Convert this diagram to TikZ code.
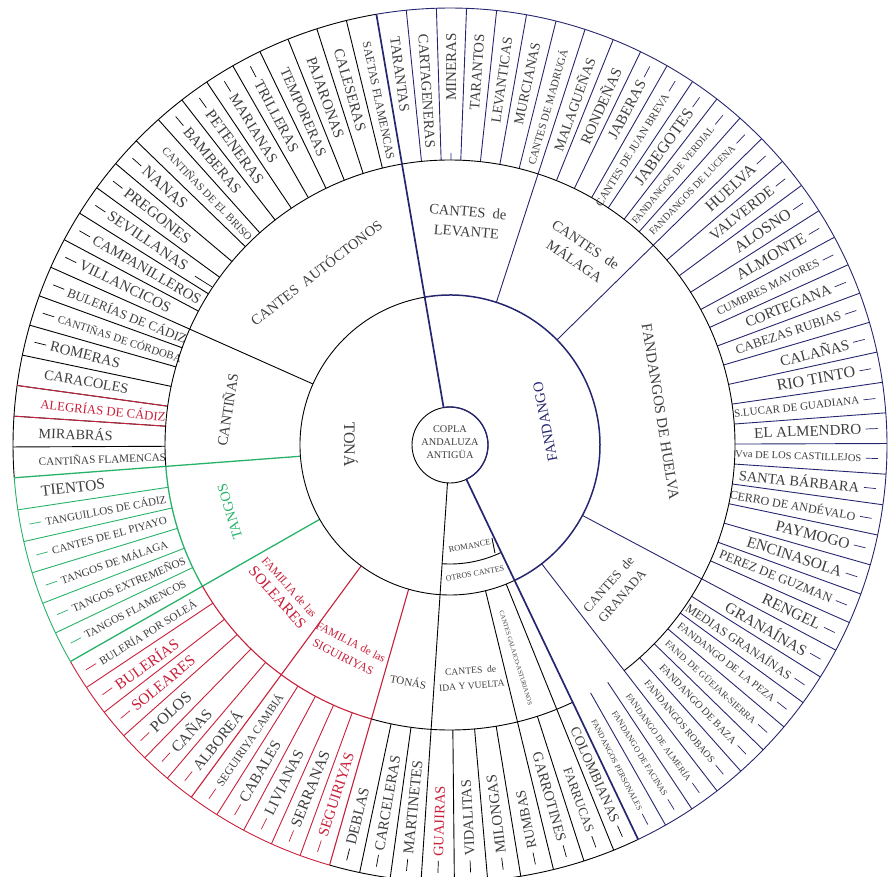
\documentclass[tikz,border=0pt]{standalone}
\usepackage{fontspec}
\setmainfont{Liberation Serif}
\usepackage{tikz}

\definecolor{navyc}{RGB}{38,38,112}
\definecolor{redc}{RGB}{200,32,58}
\definecolor{greenc}{RGB}{40,178,105}
\definecolor{txtc}{RGB}{62,62,62}

% one group of the outer ring: name, start angle, end angle, number of cantes, line colour, cantes
\newcommand{\cantegroup}[6]{%
  \pgfmathsetmacro\stp{(#2-(#3))/#4}
  \foreach \txt/\fs/\tk/\tc [count=\i] in {#6} {
    \pgfmathsetmacro\a{#2-(\i-0.5)*\stp}
    \pgfmathtruncatemacro\flip{and(\a>91.5,\a<283)}
    \ifnum\flip=1 \def\anc{west}\pgfmathsetmacro\rot{\a+180}\else\def\anc{east}\pgfmathsetmacro\rot{\a}\fi
    \node[outer label, text=\tc, font=\fontsize{\fs}{\fs}\selectfont, rotate=\rot, anchor=\anc] (#1-\i) at (\a:412) {\txt};
    \ifnum\tk=1 \draw[#5, lbl tick] (\a:416) -- (\a:428); \fi
    \ifnum\i<#4 \pgfmathsetmacro\b{#2-\i*\stp}\draw[#5] (\b:285) -- (\b:437); \fi
  }
  \draw[#5] (#2:437) arc[start angle=#2, end angle=#3, radius=437];
}

\begin{document}
\begin{tikzpicture}[x=1pt,y=1pt,line width=0.9pt,
    outer label/.style={inner sep=0pt},
    mid label/.style={inner sep=0pt, align=center, text=txtc},
    lbl tick/.style={line width=0.7pt}]
  \useasboundingbox (-450,-431) rectangle (440,445);
  \clip (-450,-431) rectangle (440,445);

  % outer ring, clockwise from the top
  \cantegroup{lev}{99.7}{72}{7}{navyc}{TARANTAS/14.5/0/txtc, CARTAGENERAS/14.5/0/txtc, MINERAS/15/0/txtc, TARANTOS/14.5/0/txtc, LEVANTICAS/14/0/txtc, MURCIANAS/14/0/txtc, CANTES DE MADRUGÁ/11/0/txtc}
  \cantegroup{mal}{72}{44.5}{7}{navyc}{MALAGUEÑAS/14/0/txtc, RONDEÑAS/15/0/txtc, JABERAS/15/1/txtc, CANTES DE JUAN BREVA/11/1/txtc, JABEGOTES/16/1/txtc, FANDANGOS DE VERDIAL/10/1/txtc, FANDANGOS DE LUCENA/10/1/txtc}
  \cantegroup{hue}{44.5}{-28}{18}{navyc}{HUELVA/16/1/txtc, VALVERDE/15/1/txtc, ALOSNO/16/1/txtc, ALMONTE/16/1/txtc, CUMBRES MAYORES/11.5/1/txtc, CORTEGANA/15/1/txtc, CABEZAS RUBIAS/13/1/txtc, CALAÑAS/15/1/txtc, RIO TINTO/16/1/txtc, S.LUCAR DE GUADIANA/11/1/txtc, EL ALMENDRO/15/1/txtc, Vva DE LOS CASTILLEJOS/10.5/1/txtc, SANTA BÁRBARA/14.5/1/txtc, CERRO DE ANDÉVALO/12/1/txtc, PAYMOGO/15.5/1/txtc, ENCINASOLA/15.5/1/txtc, PEREZ DE GUZMAN/13/1/txtc, RENGEL/16/1/txtc}
  \cantegroup{gra}{-28}{-64.5}{9}{navyc}{GRANAÍNAS/15.5/1/txtc, MEDIAS GRANAÍNAS/12.5/1/txtc, FANDANGO DE LA PEZA/10.5/1/txtc, FAND. DE GÜEJAR-SIERRA/9.5/1/txtc, FANDANGO DE BAZA/10.5/1/txtc, FANDANGOS ROBAOS/10/1/txtc, FANDANGO DE ALMERÍA/8.8/1/txtc, FANDANGO DE FACINAS/8.5/1/txtc, FANDANGOS PERSONALES/8/1/txtc}
  \cantegroup{col}{295.5}{292}{1}{black}{COLOMBIANAS/14/1/txtc}
  \cantegroup{gal}{292}{283.7}{2}{black}{FARRUCAS/13/1/txtc, GARROTINES/14.5/1/txtc}
  \cantegroup{ida}{283.7}{266.2}{4}{black}{RUMBAS/14/1/txtc, MILONGAS/15/1/txtc, VIDALITAS/14.5/1/txtc, GUAJIRAS/14.5/1/redc}
  \cantegroup{ton}{266.2}{254}{3}{black}{MARTINETES/15/1/txtc, CARCELERAS/14.8/1/txtc, DEBLAS/15/1/txtc}
  \cantegroup{sig}{254}{233.7}{5}{redc}{SEGUIRIYAS/15/1/redc, SERRANAS/15.5/1/txtc, LIVIANAS/15/1/txtc, CABALES/15/1/txtc, SEGUIRIYA CAMBIÁ/11.5/1/txtc}
  \cantegroup{sol}{233.7}{209.7}{6}{redc}{ALBOREÁ/15/1/txtc, CAÑAS/15.5/1/txtc, POLOS/16/1/txtc, SOLEARES/15.4/1/redc, BULERÍAS/15.3/1/redc, BULERÍA POR SOLEÁ/11.2/1/txtc}
  \cantegroup{tan}{209.7}{184.3}{6}{greenc}{TANGOS FLAMENCOS/11/1/txtc, TANGOS EXTREMEÑOS/11.2/1/txtc, TANGOS DE MÁLAGA/11/1/txtc, CANTES DE EL PIYAYO/11/1/txtc, TANGUILLOS DE CÁDIZ/11/1/txtc, TIENTOS/15.5/0/txtc}
  \cantegroup{can}{184.3}{156}{7}{black}{CANTIÑAS FLAMENCAS/11.2/0/txtc, MIRABRÁS/14.2/0/txtc, ALEGRÍAS DE CÁDIZ/12.8/0/redc, CARACOLES/14.3/0/txtc, ROMERAS/14.8/1/txtc, CANTIÑAS DE CÓRDOBA/11/1/txtc, BULERÍAS DE CÁDIZ/13/1/txtc}
  \cantegroup{aut}{156}{99.7}{14}{black}{VILLANCICOS/15/1/txtc, CAMPANILLEROS/14.8/1/txtc, SEVILLANAS/15.2/1/txtc, PREGONES/15.5/1/txtc, NANAS/16/1/txtc, CANTIÑAS DE EL BRISO/11/0/txtc, BAMBERAS/14.8/1/txtc, PETENERAS/15.5/1/txtc, MARIANAS/14.6/1/txtc, TRILLERAS/14.7/1/txtc, TEMPORERAS/14.4/0/txtc, PAJARONAS/15/0/txtc, CALESERAS/14.9/0/txtc, SAETAS FLAMENCAS/12/0/txtc}
  % alegrias band
  \draw[redc] (176.21:285) -- (176.21:437);
  \draw[redc] (172.17:285) -- (172.17:437);
  % stray ticks at the inner end
  \draw[navyc, lbl tick] (89.8:285) -- (89.8:292);
  \draw[lbl tick] (146.4:286) -- (146.5:306);

  % group borders
  \draw[navyc] (72:150) -- (72:437);
  \draw[navyc] (44.5:150) -- (44.5:437);
  \draw[navyc] (-28:150) -- (-28:437);
  \draw[navyc] (-52.33:150) -- (-52.33:285);
  \draw (156:150) -- (156:437);
  \draw (283.7:150) -- (283.7:437);
  \draw (292:150) -- (292:437);
  \draw (266.2:38) -- (266.2:437);
  \draw[greenc, line width=1.3pt] (184.3:150) -- (184.3:437);
  \draw[greenc, line width=1.3pt] (209.7:150) -- (209.7:437);
  \draw[redc, line width=1.1pt] (233.7:150) -- (233.7:437);
  \draw[redc, line width=1.1pt] (254:150) -- (254:437);

  % circles
  \draw (-52.33:285) arc[start angle=-52.33, end angle=184.3, radius=285];
  \draw[greenc, line width=1.3pt] (184.3:285) arc[start angle=184.3, end angle=209.7, radius=285];
  \draw[redc, line width=1.1pt] (209.7:285) arc[start angle=209.7, end angle=254, radius=285];
  \draw (254:285) arc[start angle=254, end angle=295.5, radius=285];
  \draw (99.7:150) arc[start angle=99.7, end angle=295.5, radius=150];
  \draw[navyc, line width=1.5pt] (99.7:150) arc[start angle=99.7, end angle=-64.5, radius=150];
  \draw (266.2:119) arc[start angle=266.2, end angle=295.5, radius=119];
  \draw (294.3:102) -- (292.6:117);
  \draw (0,0) circle[radius=38];
  \draw[navyc, line width=1.3pt] (99.7:38) arc[start angle=99.7, end angle=-64.5, radius=38];
  \draw[navyc, line width=1.7pt] (99.7:38) -- (99.7:437);
  \draw[navyc, line width=1.7pt] (-64.5:38) -- (-64.5:437);

  % middle ring
  \node[mid label, font=\fontsize{14.5}{20}\selectfont, rotate=37.8] (autoctonos) at (127.8:219) {CANTES\ \ AUTÓCTONOS};
  \node[mid label, font=\fontsize{14.5}{20}\selectfont, rotate=-4.4] (levante) at (85.6:224) {CANTES\ \ de\\LEVANTE};
  \node[mid label, font=\fontsize{14.5}{20}\selectfont, rotate=-34] (malaga) at (55.9:232) {CANTES\ \ de\\MÁLAGA};
  \node[mid label, font=\fontsize{15}{18}\selectfont, rotate=-81] (huelva) at (9:213) {FANDANGOS DE HUELVA};
  \node[mid label, font=\fontsize{13}{18}\selectfont, rotate=48.7] (granada) at (-41.3:220) {CANTES\ \ de\\GRANADA};
  \node[mid label, font=\fontsize{14.5}{18}\selectfont, rotate=81] (cantinas) at (171:226) {CANTIÑAS};
  \node[mid label, text=greenc, font=\fontsize{14.3}{18}\selectfont, rotate=106.9] (tangos) at (196.9:230) {TANGOS};
  \node[mid label, text=redc, font=\fontsize{11.5}{17}\selectfont, rotate=-48.5] (soleares) at (221.5:223) {FAMILIA de las\\{\fontsize{15.4}{17}\selectfont SOLEARES}};
  \node[mid label, text=redc, font=\fontsize{11.5}{17}\selectfont, rotate=-27] (siguiriyas) at (243.3:229) {FAMILIA de las\\{\fontsize{12}{17}\selectfont SIGUIRIYAS}};
  \node[mid label, font=\fontsize{11}{14}\selectfont, rotate=-10] (tonas) at (260:240) {TONÁS};
  \node[mid label, font=\fontsize{9.6}{15}\selectfont, rotate=4.4] (idayvuelta) at (275.2:234) {CANTES\ \ de\\IDA Y VUELTA};
  \node[mid label, font=\fontsize{6.4}{8}\selectfont, rotate=-72.8] (galaico) at (287.2:223) {CANTES GALAICO-ASTURIANOS};

  % inner ring
  \node[mid label, font=\fontsize{8.5}{10}\selectfont, rotate=11] (romance) at (281:103) {ROMANCE};
  \node[mid label, font=\fontsize{8}{10}\selectfont, rotate=11] (otros) at (281:131) {OTROS CANTES};
  \node[mid label, font=\fontsize{16}{18}\selectfont, rotate=-90] (tona) at (180:99) {TONÁ};
  \node[mid label, text=navyc, font=\fontsize{14.5}{18}\selectfont, rotate=101] (fandango) at (13.6:98) {FANDANGO};
  \node[mid label, font=\fontsize{10.3}{13}\selectfont] (copla) at (0,3) {COPLA\\ANDALUZA\\ANTIGÜA};
\end{tikzpicture}
\end{document}
